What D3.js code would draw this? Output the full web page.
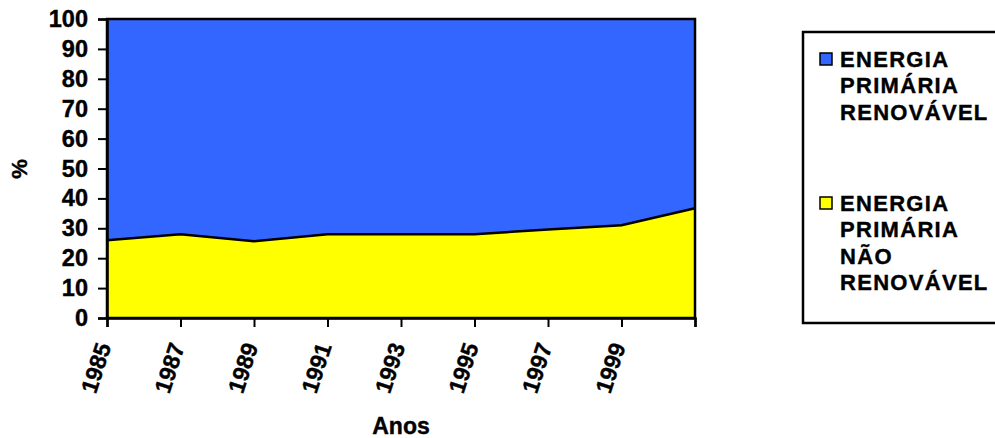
<!DOCTYPE html>
<html>
<head>
<meta charset="utf-8">
<script src="https://cdn.jsdelivr.net/npm/d3@7"></script>
<style>
  body { margin: 0; background: #fff; }
  text { font-family: "Liberation Sans", Arial, sans-serif; font-weight: bold; fill: #000; stroke: #000; stroke-width: 0.4px; }
</style>
</head>
<body>
<script>
// anos (categorias) e rótulos do eixo x
var anos = ["1985", "1987", "1989", "1991", "1993", "1995", "1997", "1999", "2001"];
var rotulosAnos = ["1985", "1987", "1989", "1991", "1993", "1995", "1997", "1999", ""];
// % não renovável (área amarela, em baixo)
var naoRenovavel = [26, 28, 25.7, 28, 28, 28, 29.6, 31, 36.7];
// % renovável (área azul, em cima)
var renovavel = [74, 72, 74.3, 72, 72, 72, 70.4, 69, 63.3];
var yTicks = [0, 10, 20, 30, 40, 50, 60, 70, 80, 90, 100];
var legenda = [
  { cor: "#3366FF", linhas: ["ENERGIA", "PRIMÁRIA", "RENOVÁVEL"] },
  { cor: "#FFFF00", linhas: ["ENERGIA", "PRIMÁRIA", "NÃO", "RENOVÁVEL"] }
];

var w = 995, h = 438;
var pLeft = 107, pRight = 695, pTop = 19, pBottom = 318;

var svg = d3.select("body").append("svg")
  .attr("width", w)
  .attr("height", h);

// tabela para o stack
var tabela = anos.map(function(a, i){
  return { ano: a, nao: naoRenovavel[i], ren: renovavel[i] };
});
var series = d3.stack().keys(["nao", "ren"])(tabela);
var cores = { nao: "#FFFF00", ren: "#3366FF" };

var x = d3.scalePoint().domain(anos).range([pLeft, pRight]);
var y = d3.scaleLinear().domain([0, 100]).range([pBottom, pTop]);

var area = d3.area()
  .x(function(d){ return x(d.data.ano); })
  .y0(function(d){ return y(d[0]); })
  .y1(function(d){ return y(d[1]); });

svg.selectAll(".area")
  .data(series)
  .enter()
  .append("path")
  .attr("class", "area")
  .attr("d", area)
  .style("fill", function(d){ return cores[d.key]; });

// linha de separação entre as áreas
var linha = d3.line()
  .x(function(d){ return x(d.data.ano); })
  .y(function(d){ return y(d[1]); });
svg.append("path")
  .attr("d", linha(series[0]))
  .style("fill", "none")
  .style("stroke", "#000")
  .style("stroke-width", 2.5);

// moldura da área do gráfico
svg.append("rect")
  .attr("x", pLeft)
  .attr("y", pTop)
  .attr("width", pRight - pLeft)
  .attr("height", pBottom - pTop)
  .style("fill", "none")
  .style("stroke", "#000")
  .style("stroke-width", 2.5);

// eixo y
var yAxis = d3.axisLeft(y).tickValues(yTicks).tickSize(9).tickPadding(10);
var gy = svg.append("g")
  .attr("transform", "translate(" + pLeft + ",0)")
  .call(yAxis);
gy.select(".domain").style("stroke", "#000").style("stroke-width", 2.5);
gy.selectAll(".tick line").style("stroke", "#000").style("stroke-width", 2);
gy.selectAll(".tick text")
  .style("font-size", "23.5px")
  .style("font-family", "Liberation Sans, Arial, sans-serif")
  .style("font-weight", "bold");

// eixo x
var xAxis = d3.axisBottom(x).tickSize(9).tickFormat(function(d, i){ return rotulosAnos[i]; });
var gx = svg.append("g")
  .attr("transform", "translate(0," + pBottom + ")")
  .call(xAxis);
gx.select(".domain").style("stroke", "#000").style("stroke-width", 2.5);
gx.selectAll(".tick line").style("stroke", "#000").style("stroke-width", 2);
gx.selectAll(".tick text")
  .style("font-size", "23px")
  .style("font-family", "Liberation Sans, Arial, sans-serif")
  .style("font-weight", "bold")
  .attr("text-anchor", "end")
  .attr("x", 0)
  .attr("y", 0)
  .attr("dy", 0)
  .attr("transform", "translate(4,28) rotate(-72)");

// títulos dos eixos
svg.append("text")
  .attr("text-anchor", "middle")
  .attr("transform", "translate(27,169) rotate(-90)")
  .style("font-size", "22px")
  .text("%");

svg.append("text")
  .attr("text-anchor", "middle")
  .attr("x", (pLeft + pRight) / 2)
  .attr("y", 434)
  .style("font-size", "23px")
  .text("Anos");

// legenda
svg.append("rect")
  .attr("x", 803)
  .attr("y", 32)
  .attr("width", 200)
  .attr("height", 291)
  .style("fill", "#fff")
  .style("stroke", "#000")
  .style("stroke-width", 2.5);

var grupoY = [67, 211];
legenda.forEach(function(item, i){
  svg.append("rect")
    .attr("x", 820)
    .attr("y", grupoY[i] - 14)
    .attr("width", 12)
    .attr("height", 12)
    .style("fill", item.cor)
    .style("stroke", "#000")
    .style("stroke-width", 1.5);
  var t = svg.append("text")
    .attr("x", 840)
    .attr("y", grupoY[i])
    .style("font-size", "22px")
    .style("letter-spacing", "1.3px");
  item.linhas.forEach(function(l, j){
    t.append("tspan")
      .attr("x", 840)
      .attr("dy", j === 0 ? 0 : 26.3)
      .text(l);
  });
});
</script>
</body>
</html>
